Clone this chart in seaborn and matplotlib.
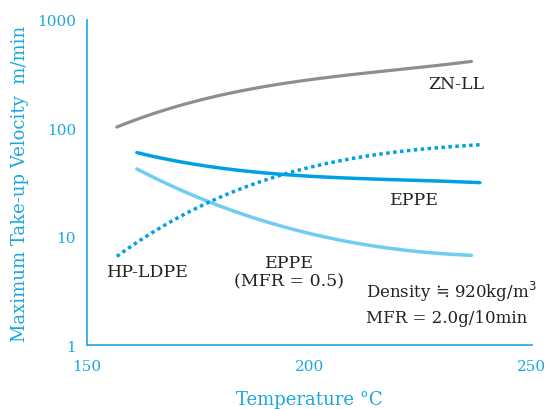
import numpy as np
import pandas as pd
import matplotlib
matplotlib.use("Agg")
import matplotlib.pyplot as plt
import seaborn as sns
from matplotlib.ticker import FixedLocator, LogLocator, NullFormatter

# Data
zn_temp = [156.7, 167.9, 182.8, 197.9, 212.8, 227.8, 236.4]
zn_vel = [102, 151, 215, 266, 329, 378, 412]

eppe_temp = [161.2, 167.9, 182.9, 197.9, 212.8, 227.8, 238.3]
eppe_vel = [61, 50, 42, 37, 34, 32.4, 31.7]

eppe05_temp = [161.2, 167.9, 177.6, 190.4, 205.3, 220.3, 236.4]
eppe05_vel = [41.5, 31.7, 20.7, 13.6, 9.5, 7.7, 6.7]

hp_temp = [156.7, 164.2, 177.6, 193.4, 212.8, 227.8, 238.3]
hp_vel = [6.7, 10.2, 21.5, 37, 54, 67, 70]

x_ticks = [150, 200, 250]
y_ticks = [1, 10, 100, 1000]
y_ticklabels = ["1", "10", "100", "1000"]

AX = "#1aa7e0"
GRAY = "#8e8e8e"
DARK = "#00a0e6"
LIGHT = "#6fcdf2"

sns.set_style("white")
plt.rcParams["font.family"] = ["DejaVu Serif", "DejaVu Sans"]

fig = plt.figure(figsize=(5.49, 4.10), dpi=100)
ax = fig.add_axes([0.1585, 0.156, 0.8105, 0.793])

def smooth(t, v):
    t = np.asarray(t, float); lv = np.log10(v)
    c = np.polyfit(t, lv, 3)
    tt = np.linspace(t[0], t[-1], 80)
    return pd.DataFrame({"T": tt, "V": 10 ** np.polyval(c, tt)})

d = smooth(zn_temp, zn_vel)
sns.lineplot(data=d, x="T", y="V", ax=ax, color=GRAY, lw=2.3)
d = smooth(eppe_temp, eppe_vel)
sns.lineplot(data=d, x="T", y="V", ax=ax, color=DARK, lw=2.5)
d = smooth(eppe05_temp, eppe05_vel)
sns.lineplot(data=d, x="T", y="V", ax=ax, color=LIGHT, lw=2.5)
d = smooth(hp_temp, hp_vel)
sns.lineplot(data=d, x="T", y="V", ax=ax, color=DARK, lw=2.5, linestyle=(0, (1.0, 1.0)))

ax.set_yscale("log")
ax.set_xlim(150, 250)
ax.set_ylim(1, 1000)

for s in ["top", "right"]:
    ax.spines[s].set_visible(False)
for s in ["left", "bottom"]:
    ax.spines[s].set_color(AX)
    ax.spines[s].set_linewidth(1.2)

ax.set_xticks(x_ticks)
ax.set_xticklabels([str(v) for v in x_ticks])
ax.xaxis.set_minor_locator(FixedLocator(np.arange(160, 250, 10)))
ax.set_yticks(y_ticks)
ax.set_yticklabels(y_ticklabels)
ax.yaxis.set_minor_locator(LogLocator(base=10, subs=np.arange(2, 10)))
ax.yaxis.set_minor_formatter(NullFormatter())

ax.tick_params(axis="both", which="both", direction="in", color=AX, labelcolor=AX,
               labelsize=11, width=1.0)
ax.tick_params(axis="both", which="major", length=6, pad=8)
ax.tick_params(axis="both", which="minor", length=4)
ax.tick_params(axis="x", which="major", pad=10)

ax.set_xlabel("Temperature °C", color=AX, fontsize=13, labelpad=12)
ax.set_ylabel("Maximum Take-up Velocity  m/min", color=AX, fontsize=13, labelpad=6)

tk = dict(color="#222222", fontsize=12.5)
ax.text(0.83, 0.803, "ZN-LL", transform=ax.transAxes, ha="center", va="center", **tk)
ax.text(0.737, 0.449, "EPPE", transform=ax.transAxes, ha="center", va="center", **tk)
ax.text(0.455, 0.225, "EPPE\n(MFR = 0.5)", transform=ax.transAxes, ha="center", va="center",
        linespacing=1.1, **tk)
ax.text(0.137, 0.227, "HP-LDPE", transform=ax.transAxes, ha="center", va="center", **tk)
ax.text(0.628, 0.166, "Density ≒ 920kg/m$^3$", transform=ax.transAxes, ha="left", va="center",
        color="#222222", fontsize=12)
ax.text(0.628, 0.086, "MFR = 2.0g/10min", transform=ax.transAxes, ha="left", va="center",
        color="#222222", fontsize=12)

fig.savefig("out.png", dpi=100)
